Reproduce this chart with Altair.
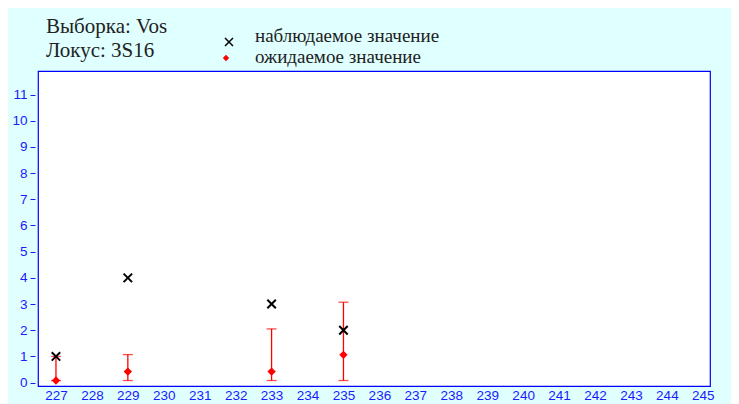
import altair as alt
import pandas as pd

# ---- data ----
alleles = [227, 229, 233, 235]
observed = [1, 4, 3, 2]
expected = [0.08, 0.42, 0.42, 1.06]
ci_low = [0.08, 0.08, 0.08, 0.08]
ci_high = [1.0, 1.07, 2.05, 3.07]
x_ticks = list(range(227, 246))
y_ticks = list(range(0, 12))
title_lines = ["Выборка: Vos", "Локус: 3S16"]
legend_labels = ["наблюдаемое значение", "ожидаемое значение"]

BLUE = "#1a1aff"
RED = "#ff0000"
BG = "#e0ffff"
SERIF = "Liberation Serif"
SANS = "Liberation Sans"

df = pd.DataFrame({
    "allele": alleles,
    "obs": observed,
    "exp": expected,
    "lo": ci_low,
    "hi": ci_high,
})

xscale = alt.Scale(domain=[226.5, 245.2], nice=False, zero=False)
yscale = alt.Scale(domain=[-0.13, 11.9], nice=False, zero=False)

x_axis = alt.Axis(values=x_ticks, title=None, ticks=False, domain=False, grid=False,
                  labelPadding=2, format="d", labelColor=BLUE, labelFont=SANS,
                  labelFontSize=13.5, labelFlush=False, labelOverlap=False, labelBound=False)
y_axis = alt.Axis(values=y_ticks, title=None, domain=False, grid=False, tickColor=BLUE,
                  tickSize=5, tickWidth=1, offset=3, labelPadding=3, format="d",
                  labelColor=BLUE, labelFont=SANS, labelFontSize=13.5, labelOverlap=False,
                  labelBound=False)

X = alt.X("allele:Q", scale=xscale, axis=x_axis)

base = alt.Chart(df)

bars = base.mark_rule(color=RED, strokeWidth=1.3).encode(
    x=X,
    y=alt.Y("lo:Q", scale=yscale, axis=y_axis),
    y2="hi:Q",
)
cap_lo = base.mark_tick(orient="horizontal", size=10, thickness=1.3, color=RED).encode(
    x=X, y=alt.Y("lo:Q", scale=yscale, axis=y_axis)
)
cap_hi = base.mark_tick(orient="horizontal", size=10, thickness=1.3, color=RED).encode(
    x=X, y=alt.Y("hi:Q", scale=yscale, axis=y_axis)
)
exp_pts = base.mark_point(shape="diamond", filled=True, size=70, color=RED, opacity=1).encode(
    x=X, y=alt.Y("exp:Q", scale=yscale, axis=y_axis)
)
obs_pts = base.mark_point(shape="M-1,-1L1,1M-1,1L1,-1", filled=False, size=72,
                          stroke="black", strokeWidth=2, opacity=1).encode(
    x=X, y=alt.Y("obs:Q", scale=yscale, axis=y_axis)
)


def text_layer(txt, px, py, size, font=SERIF):
    return alt.Chart(pd.DataFrame({"t": [txt]})).mark_text(
        align="left", baseline="alphabetic", font=font, fontSize=size, color="#222222"
    ).encode(x=alt.value(px), y=alt.value(py), text="t:N")


t1 = text_layer(title_lines[0], 8, -38, 21)
t2 = text_layer(title_lines[1], 8, -14, 21)
l1 = text_layer(legend_labels[0], 217, -29, 19)
l2 = text_layer(legend_labels[1], 217, -8, 19)

leg_x = alt.Chart(pd.DataFrame({"k": [legend_labels[0]]})).mark_point(
    shape="M-1,-1L1,1M-1,1L1,-1", filled=False, size=64, stroke="black", strokeWidth=1.5, opacity=1
).encode(x=alt.value(191), y=alt.value(-29))
leg_d = alt.Chart(pd.DataFrame({"k": [legend_labels[1]]})).mark_point(
    shape="diamond", filled=True, size=40, color=RED, opacity=1
).encode(x=alt.value(188), y=alt.value(-13))

chart = alt.layer(bars, cap_lo, cap_hi, exp_pts, obs_pts, t1, t2, l1, l2, leg_x, leg_d).properties(
    width=672, height=315,
    autosize=alt.AutoSizeParams(type="none"),
    padding={"left": 30, "top": 63, "right": 21, "bottom": 18},
    background=BG,
).configure_view(fill="white", stroke="#0000ff", strokeWidth=1.2)

chart.save("out.html", embed_options={"renderer": "svg", "actions": False})
